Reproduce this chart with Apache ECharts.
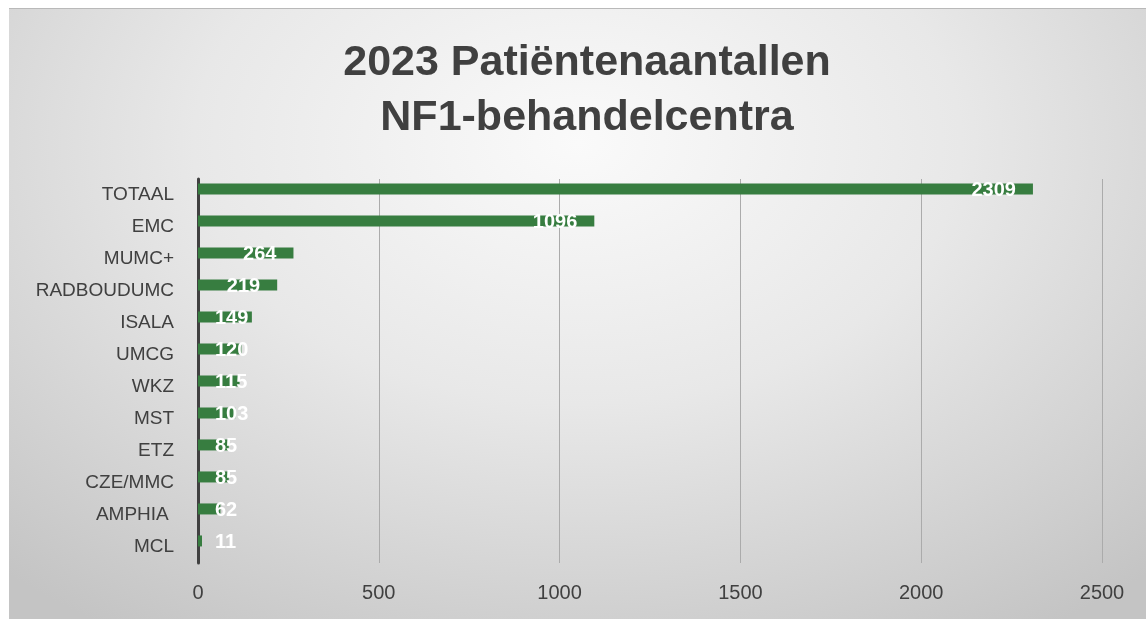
<!DOCTYPE html>
<html>
<head>
<meta charset="utf-8">
<script src="https://cdn.jsdelivr.net/npm/echarts@6/dist/echarts.min.js"></script>
<style>
html,body{margin:0;padding:0;background:#ffffff;width:1147px;height:619px;overflow:hidden;}
#bg{position:absolute;left:9px;top:8px;width:1137px;height:611px;
 background:radial-gradient(ellipse 75% 95% at 50% 22%, #fafafa 0%, #e8e8e8 45%, #c4c4c4 100%);
 border-top:1px solid #b9b9b9;box-sizing:border-box;}
#chart{position:absolute;left:0;top:0;width:1147px;height:619px;}
</style>
</head>
<body>
<div id="bg"></div>
<div id="chart"></div>
<script>
var titleText = "2023 Patiëntenaantallen\nNF1-behandelcentra";
var categories = ["TOTAAL","EMC","MUMC+","RADBOUDUMC","ISALA","UMCG","WKZ","MST","ETZ","CZE/MMC","AMPHIA ","MCL"];
var values = [2309,1096,264,219,149,120,115,103,85,85,62,11];
var xTicks = {min:0, max:2500, interval:500};

var chart = echarts.init(document.getElementById('chart'), null, {renderer:'canvas'});
var barData = values.map(function(v){
  var small = v < 200;
  return {
    value: v,
    label: small ? {position:'insideLeft', distance:17} : {position:'insideRight', distance:17}
  };
});
var dummy = values.map(function(){ return '-'; });

chart.setOption({
  backgroundColor: 'transparent',
  animation: false,
  title: {
    text: titleText,
    left: 582,
    top: 31,
    textAlign: 'center',
    textStyle: {fontFamily:'Liberation Sans', fontWeight:'bold', fontSize:43, lineHeight:55, color:'#404040'}
  },
  grid: {left:198, right:45, top:179, bottom:56},
  xAxis: {
    type:'value', min:xTicks.min, max:xTicks.max, interval:xTicks.interval,
    axisLine:{show:false}, axisTick:{show:false},
    splitLine:{show:true, lineStyle:{color:'#ababab', width:1}},
    axisLabel:{color:'#404040', fontSize:20, fontFamily:'Liberation Sans', margin:20,
      formatter:function(v){ return String(v); }}
  },
  yAxis: {
    type:'category', data:categories, inverse:true,
    axisLine:{show:true, lineStyle:{color:'#404040', width:3}},
    axisTick:{show:false},
    axisLabel:{color:'#404040', fontSize:19, fontFamily:'Liberation Sans', margin:24}
  },
  series: [
    {
      type:'bar', data:barData, barWidth:11, barGap:'10%',
      itemStyle:{color:'#377d40'},
      label:{show:true, color:'#ffffff', fontWeight:'bold', fontSize:20, fontFamily:'Liberation Sans', offset:[0,2]}
    },
    {
      type:'bar', data:dummy, barWidth:11, silent:true, itemStyle:{color:'transparent'}
    }
  ]
});
</script>
</body>
</html>
